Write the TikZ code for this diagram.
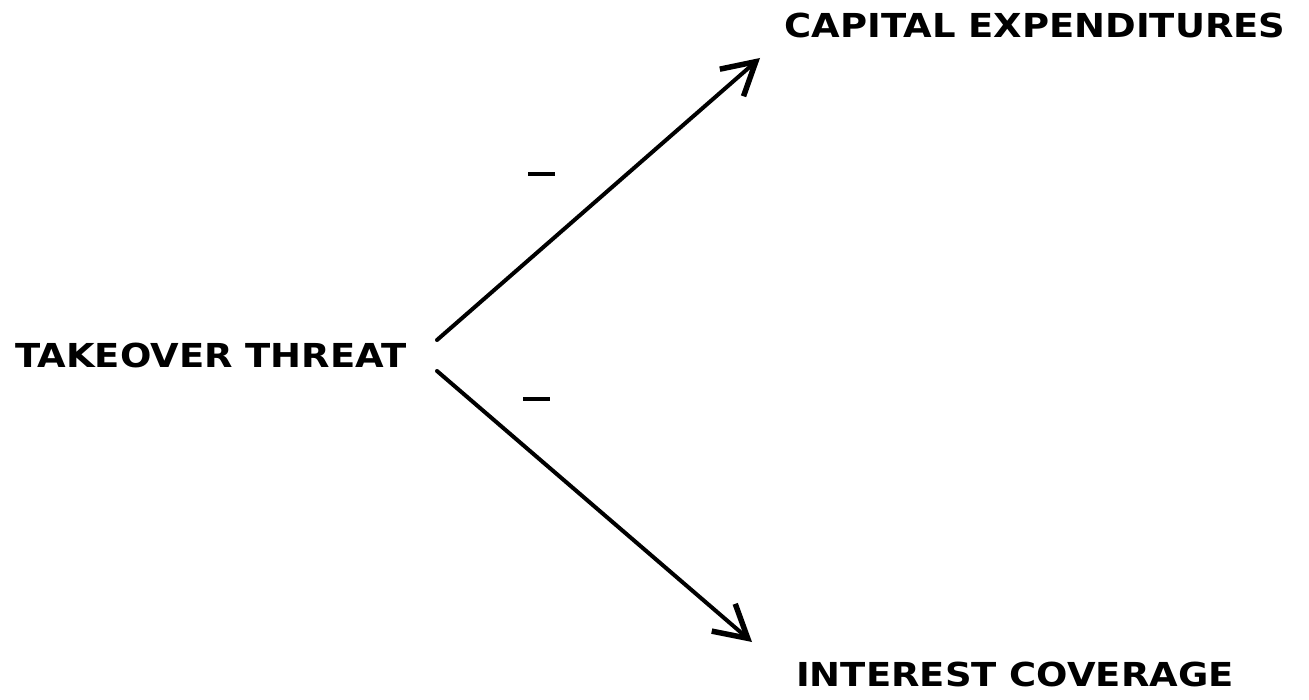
\documentclass[tikz,border=0pt]{standalone}
\usepackage{fontspec}
\usepackage{graphicx}
\setmainfont{DejaVu Sans}
\usetikzlibrary{arrows.meta}
\newcommand{\wide}[1]{\scalebox{1.12}[1]{#1}}
\tikzset{
  lbl/.style={inner sep=0pt, font=\bfseries\fontsize{33}{36}\selectfont, anchor=center},
  conn/.style={line width=4pt, line cap=round, -{Straight Barb[length=32pt,width=36pt,line width=5.5pt]}},
  sign/.style={inner sep=0pt, minimum width=27pt, minimum height=4pt, fill=black}
}
\begin{document}
\begin{tikzpicture}[x=1pt,y=-1pt]
\useasboundingbox (0,0) rectangle (1309,700);
\node[lbl] (tt) at (211,355.5) {\wide{TAKEOVER THREAT}};
\node[lbl] (ce) at (1035,25) {\wide{CAPITAL EXPENDITURES}};
\node[lbl] (ic) at (1015,674.5) {\wide{INTEREST COVERAGE}};
\coordinate (s1) at (437,340);
\coordinate (e1) at (760,58);
\coordinate (s2) at (437,371);
\coordinate (e2) at (752,642);
\draw[conn] (s1) -- (e1);
\draw[conn] (s2) -- (e2);
\node[sign] (m1) at (541.5,174) {};
\node[sign] (m2) at (536.5,399) {};
\end{tikzpicture}
\end{document}
